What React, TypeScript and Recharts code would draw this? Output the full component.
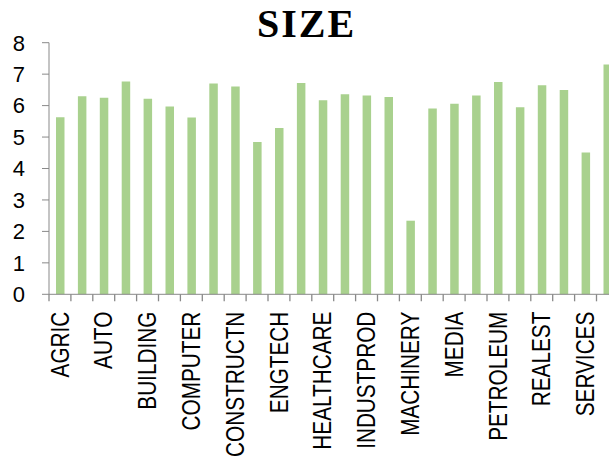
import React from "react";
import { BarChart, Bar, XAxis, YAxis } from "recharts";

const categories = [
  "AGRIC", "AIRCRAFT", "AUTO", "BANKS", "BUILDING", "CHEMICALS", "COMPUTER",
  "CONSTMAT", "CONSTRUCTN", "ELECTRONIC", "ENGTECH", "FOOD", "HEALTHCARE",
  "HOTELS", "INDUSTPROD", "INSURANCE", "MACHINERY", "MANUF", "MEDIA", "MINING",
  "PETROLEUM", "PHARMA", "REALEST", "RETAIL", "SERVICES", "TELECOM",
];

const sizeValues = [
  5.63, 6.3, 6.25, 6.77, 6.22, 5.97, 5.62, 6.7, 6.61, 4.84, 5.29, 6.72, 6.17,
  6.36, 6.32, 6.27, 2.34, 5.91, 6.06, 6.32, 6.75, 5.95, 6.65, 6.5, 4.51, 7.31,
];

const yTicks = [0, 1, 2, 3, 4, 5, 6, 7, 8];

const data = categories.map((name, i) => ({ name, size: sizeValues[i] }));

const AXIS_COLOR = "#898989";

// ticks sit on category boundaries, labels on every other bar
function CategoryTick(props: any) {
  const { x, y, payload, index } = props;
  const half = payload && payload.offset != null ? payload.offset : 10.95;
  const bx = x - half;
  const ty = y + 17.4;
  return (
    <g>
      <line x1={bx} y1={y} x2={bx} y2={y + 7} stroke={AXIS_COLOR} strokeWidth={1.3} />
      {index % 2 === 0 && (
        <text
          x={0}
          y={0}
          transform={`translate(${x}, ${ty}) rotate(-90) scale(0.83, 1)`}
          textAnchor="end"
          dominantBaseline="central"
          fontFamily="'Liberation Sans', Arial, sans-serif"
          fontSize={25}
          fill="#000"
        >
          {payload.value}
        </text>
      )}
    </g>
  );
}

export default function App() {
  return (
    <div
      style={{
        position: "fixed",
        left: 0,
        top: 0,
        width: 609,
        height: 463,
        overflow: "hidden",
        background: "#fff",
      }}
    >
      <div
        style={{
          position: "absolute",
          left: 0,
          width: 609,
          top: 0,
          textAlign: "center",
          fontFamily: "'Liberation Serif', 'Times New Roman', serif",
          fontWeight: "bold",
          fontSize: 40,
          letterSpacing: 2,
          lineHeight: "48px",
          paddingLeft: 2,
        }}
      >
        SIZE
      </div>
      <BarChart
        width={620}
        height={463}
        data={data}
        margin={{ top: 42.7, right: 1.6, bottom: 0, left: 0 }}
      >
        <YAxis
          width={49}
          domain={[0, 8]}
          ticks={yTicks}
          interval={0}
          tickSize={7}
          tickMargin={17}
          stroke={AXIS_COLOR}
          tick={{ fill: "#000", fontSize: 22, fontFamily: "'Liberation Sans', Arial, sans-serif" }}
        />
        <XAxis
          dataKey="name"
          height={168.7}
          interval={0}
          tickSize={0}
          tickMargin={0}
          tickLine={false}
          stroke={AXIS_COLOR}
          tick={<CategoryTick />}
        />
        <Bar dataKey="size" fill="#a9d18e" barSize={8.5} isAnimationActive={false} />
      </BarChart>
    </div>
  );
}
